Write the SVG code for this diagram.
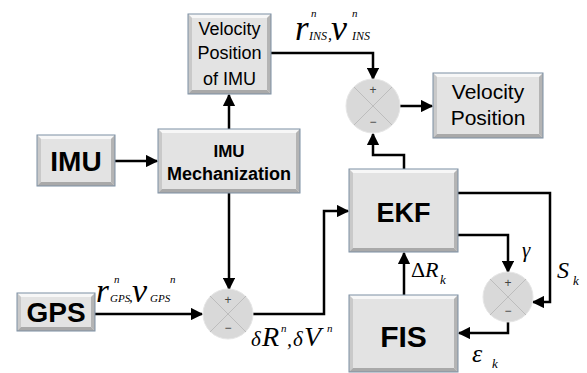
<svg xmlns="http://www.w3.org/2000/svg" width="587" height="373" viewBox="0 0 587 373">
<style>
.face{fill:#e3e3e3}
.bt{fill:#f7f7f7}
.bl{fill:#c9c9c9}
.bb{fill:#a9a9a9}
.br{fill:#b4b4b4}
.edge{fill:none;stroke:#7d8fa3;stroke-width:1}
.lbl{font-family:"Liberation Sans",Arial,sans-serif;fill:#000;text-anchor:middle}
.b{font-weight:bold}
.sum{fill:#d9d9d9;stroke:#e6e6e6;stroke-width:1}
.x{stroke:#bdbdbd;stroke-width:1}
.sg{font-family:"Liberation Sans",Arial,sans-serif;font-size:12px;fill:#444;text-anchor:middle}
.m{font-family:"Liberation Serif","Times New Roman",serif;font-style:italic;fill:#000}
.c{fill:none;stroke:#000;stroke-width:2.5;marker-end:url(#ah)}
</style>
<defs>
<marker id="ah" viewBox="0 0 10 10" refX="9" refY="5" markerWidth="5" markerHeight="5" orient="auto" markerUnits="strokeWidth">
<path d="M0,0 L10,5 L0,10 z" fill="#000"/>
</marker>
</defs>
<rect width="587" height="373" fill="#fff"/>

<g id="connectors">
<path class="c" d="M115,161 H157"/>
<path class="c" d="M229,129 V95"/>
<path class="c" d="M271,53 H373 V79"/>
<path class="c" d="M400,106 H432"/>
<path class="c" d="M404,169 V155 H373 V134"/>
<path class="c" d="M229,193 V289"/>
<path class="c" d="M95,314 H202"/>
<path class="c" d="M253,314 H324 V211 H348"/>
<path class="c" d="M404,295 V253"/>
<path class="c" d="M458,235 H508 V272"/>
<path class="c" d="M458,193 H550 V302 H533"/>
<path class="c" d="M508,322 V333 H459"/>
</g>

<g id="velpos-imu">
<rect class="face" x="188" y="14" width="83" height="80"/>
<polygon class="bt" points="188,14 271,14 267,18 192,18"/>
<polygon class="bl" points="188,14 192,18 192,90 188,94"/>
<polygon class="bb" points="188,94 192,90 267,90 271,94"/>
<polygon class="br" points="271,14 271,94 267,90 267,18"/>
<rect class="edge" x="188" y="14" width="83" height="80"/>
<text class="lbl" x="229.5" y="35" font-size="18">Velocity</text>
<text class="lbl" x="229.5" y="59" font-size="18">Position</text>
<text class="lbl" x="229.5" y="85" font-size="18">of IMU</text>
</g>

<g id="imu">
<rect class="face" x="37" y="135" width="78" height="51"/>
<polygon class="bt" points="37,135 115,135 111,139 41,139"/>
<polygon class="bl" points="37,135 41,139 41,182 37,186"/>
<polygon class="bb" points="37,186 41,182 111,182 115,186"/>
<polygon class="br" points="115,135 115,186 111,182 111,139"/>
<rect class="edge" x="37" y="135" width="78" height="51"/>
<text class="lbl b" x="76" y="171" font-size="28">IMU</text>
</g>

<g id="mechanization">
<rect class="face" x="158" y="129" width="142" height="64"/>
<polygon class="bt" points="158,129 300,129 296,133 162,133"/>
<polygon class="bl" points="158,129 162,133 162,189 158,193"/>
<polygon class="bb" points="158,193 162,189 296,189 300,193"/>
<polygon class="br" points="300,129 300,193 296,189 296,133"/>
<rect class="edge" x="158" y="129" width="142" height="64"/>
<text class="lbl b" x="229" y="157" font-size="17">IMU</text>
<text class="lbl b" x="229" y="180" font-size="18">Mechanization</text>
</g>

<g id="sum1">
<circle class="sum" cx="373" cy="106" r="27"/>
<line class="x" x1="354" y1="87" x2="392" y2="125"/>
<line class="x" x1="392" y1="87" x2="354" y2="125"/>
<text class="sg" x="373" y="94">+</text>
<text class="sg" x="373" y="126">−</text>
</g>

<g id="velpos">
<rect class="face" x="433" y="73" width="110" height="65"/>
<polygon class="bt" points="433,73 543,73 539,77 437,77"/>
<polygon class="bl" points="433,73 437,77 437,134 433,138"/>
<polygon class="bb" points="433,138 437,134 539,134 543,138"/>
<polygon class="br" points="543,73 543,138 539,134 539,77"/>
<rect class="edge" x="433" y="73" width="110" height="65"/>
<text class="lbl" x="488" y="99" font-size="21">Velocity</text>
<text class="lbl" x="488" y="125" font-size="21">Position</text>
</g>

<g id="ekf">
<rect class="face" x="349" y="169" width="109" height="83"/>
<polygon class="bt" points="349,169 458,169 454,173 353,173"/>
<polygon class="bl" points="349,169 353,173 353,248 349,252"/>
<polygon class="bb" points="349,252 353,248 454,248 458,252"/>
<polygon class="br" points="458,169 458,252 454,248 454,173"/>
<rect class="edge" x="349" y="169" width="109" height="83"/>
<text class="lbl b" x="403.5" y="222" font-size="27">EKF</text>
</g>

<g id="gps">
<rect class="face" x="17" y="293" width="78" height="38"/>
<polygon class="bt" points="17,293 95,293 91,297 21,297"/>
<polygon class="bl" points="17,293 21,297 21,327 17,331"/>
<polygon class="bb" points="17,331 21,327 91,327 95,331"/>
<polygon class="br" points="95,293 95,331 91,327 91,297"/>
<rect class="edge" x="17" y="293" width="78" height="38"/>
<text class="lbl b" x="56" y="322" font-size="28">GPS</text>
</g>

<g id="sum2">
<circle class="sum" cx="228" cy="314" r="25"/>
<line class="x" x1="210" y1="296" x2="246" y2="332"/>
<line class="x" x1="246" y1="296" x2="210" y2="332"/>
<text class="sg" x="228" y="304">+</text>
<text class="sg" x="228" y="332">−</text>
</g>

<g id="fis">
<rect class="face" x="349" y="295" width="109" height="77"/>
<polygon class="bt" points="349,295 458,295 454,299 353,299"/>
<polygon class="bl" points="349,295 353,299 353,368 349,372"/>
<polygon class="bb" points="349,372 353,368 454,368 458,372"/>
<polygon class="br" points="458,295 458,372 454,368 454,299"/>
<rect class="edge" x="349" y="295" width="109" height="77"/>
<text class="lbl b" x="403.5" y="347" font-size="30">FIS</text>
</g>

<g id="sum3">
<circle class="sum" cx="508" cy="297" r="25"/>
<line class="x" x1="490" y1="279" x2="526" y2="315"/>
<line class="x" x1="526" y1="279" x2="490" y2="315"/>
<text class="sg" x="508" y="287">+</text>
<text class="sg" x="508" y="315">−</text>
</g>

<g id="labels">
<text class="m" x="295" y="40" font-size="35">r</text>
<text class="m" x="309" y="40" font-size="12">INS</text>
<text class="m" x="328" y="40" font-size="16">,</text>
<text class="m" x="331" y="40" font-size="36">v</text>
<text class="m" x="352" y="40" font-size="12">INS</text>
<text class="m" x="311" y="17" font-size="11">n</text>
<text class="m" x="352" y="17" font-size="11">n</text>

<text class="m" x="96" y="302" font-size="33">r</text>
<text class="m" x="110" y="302" font-size="11">GPS</text>
<text class="m" x="129" y="302" font-size="15">,</text>
<text class="m" x="132" y="302" font-size="34">v</text>
<text class="m" x="150" y="302" font-size="11">GPS</text>
<text class="m" x="114" y="283" font-size="11">n</text>
<text class="m" x="170" y="283" font-size="11">n</text>

<text class="m" x="251" y="346" font-size="21">δ</text>
<text class="m" x="262" y="346" font-size="28">R</text>
<text class="m" x="281" y="332" font-size="11">n</text>
<text class="m" x="287" y="346" font-size="20">,</text>
<text class="m" x="293" y="346" font-size="21">δ</text>
<text class="m" x="304" y="346" font-size="28">V</text>
<text class="m" x="327" y="332" font-size="11">n</text>

<text class="m" x="522" y="257" font-size="21">γ</text>
<text class="m" x="557" y="278" font-size="24">S</text>
<text class="m" x="573" y="285" font-size="13">k</text>
<text x="411" y="277" font-size="22" font-family="'Liberation Serif','Times New Roman',serif">Δ</text>
<text class="m" x="425" y="277" font-size="22">R</text>
<text class="m" x="440" y="284" font-size="13">k</text>
<text class="m" x="472" y="362" font-size="26">ε</text>
<text class="m" x="492" y="368" font-size="13">k</text>
</g>
</svg>
